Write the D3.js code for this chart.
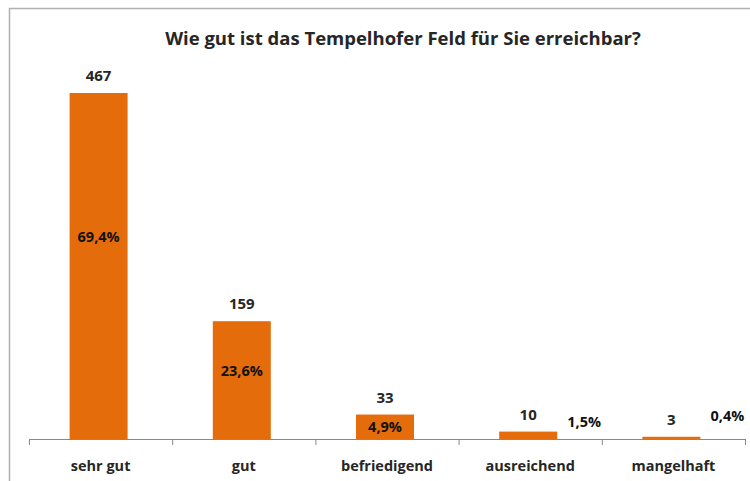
<!DOCTYPE html>
<html><head><meta charset="utf-8">
<script src="https://cdn.jsdelivr.net/npm/d3@7/dist/d3.min.js"></script>
<style>body{margin:0;background:#fff}svg{display:block}text{font-family:"Open Sans",sans-serif;font-weight:bold;fill:#262626}</style>
</head><body><svg id="c" width="750" height="481"></svg>
<script>
const title = "Wie gut ist das Tempelhofer Feld für Sie erreichbar?";
const categories = ["sehr gut","gut","befriedigend","ausreichend","mangelhaft"];
const counts = [467,159,33,10,3];
const percents = ["69,4%","23,6%","4,9%","1,5%","0,4%"];

const svg = d3.select("#c");
svg.append("path").attr("d","M9.5,481 V8.5 H750").attr("fill","none").attr("stroke","#b0b0b0").attr("stroke-width",1.5);

const x = d3.scaleBand().domain(categories).range([29,745]).paddingInner(0).paddingOuter(0);
const y = d3.scaleLinear().domain([0,467]).range([439,93]);
const bw = 58;

svg.append("text").attr("x",403).attr("y",45).attr("text-anchor","middle").style("font-size","18.5px").text(title);

const ax = svg.append("g").attr("transform","translate(0,439)")
  .call(d3.axisBottom(x).tickSize(0).tickFormat(""));
ax.select(".domain").attr("stroke","#888");
ax.selectAll(".tick").remove();
const edges = categories.map(c=>x(c)).concat([x.range()[1]]);
ax.selectAll("line.t").data(edges).join("line").attr("class","t")
  .attr("x1",d=>d+0.5).attr("x2",d=>d+0.5).attr("y1",0).attr("y2",6).attr("stroke","#888");

const cx = c => x(c)+x.bandwidth()/2 - 2;
svg.selectAll("rect.bar").data(categories).join("rect").attr("class","bar")
  .attr("x",c=>cx(c)-bw/2).attr("width",bw)
  .attr("y",(c,i)=>y(counts[i])).attr("height",(c,i)=>439-y(counts[i]))
  .attr("fill","#E46C0A");

svg.selectAll("text.cnt").data(categories).join("text").attr("class","cnt")
  .attr("x",cx).attr("y",(c,i)=>y(counts[i])-12).attr("text-anchor","middle")
  .style("font-size","15px").text((c,i)=>counts[i]);

svg.selectAll("text.pct").data(categories).join("text").attr("class","pct")
  .attr("x",(c,i)=> i<3 ? cx(c) : cx(c)+bw/2+27)
  .attr("y",(c,i)=> i<3 ? y(counts[i])+(439-y(counts[i]))*0.41+7 : (i===3?427:421))
  .attr("text-anchor","middle").style("font-size","14.5px").style("fill","#111").text((c,i)=>percents[i]);

svg.selectAll("text.cat").data(categories).join("text").attr("class","cat")
  .attr("x",c=>x(c)+x.bandwidth()/2).attr("y",471).attr("text-anchor","middle")
  .style("font-size","14.5px").text(c=>c);
</script></body></html>
